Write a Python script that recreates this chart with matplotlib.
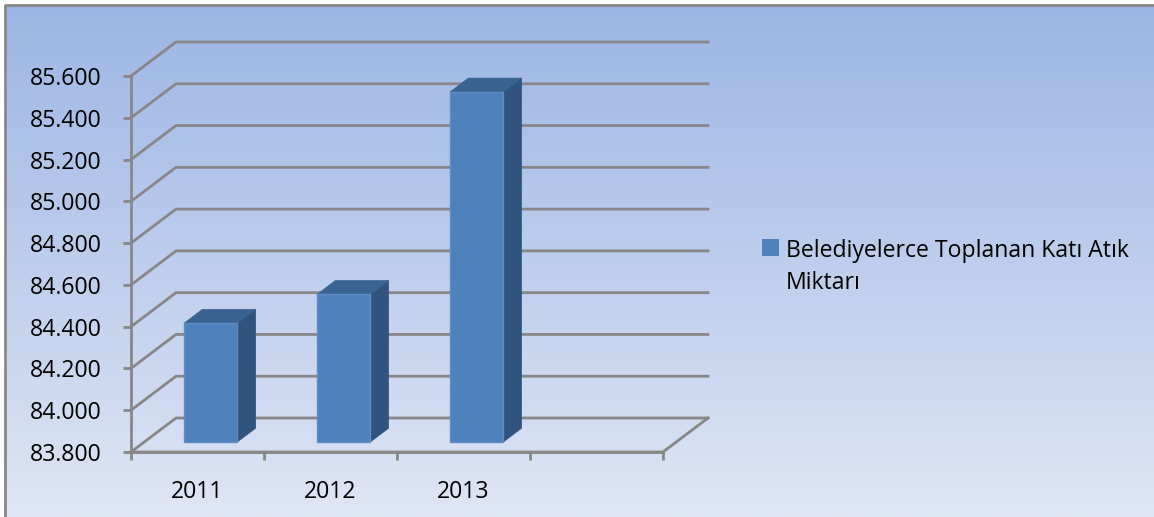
import numpy as np
import matplotlib
matplotlib.use("Agg")
from matplotlib import pyplot as plt
from matplotlib.patches import Polygon, Rectangle

years = ["2011", "2012", "2013"]
values = [84369, 84507, 85476]
n_slots = 4
yticks = [83800, 84000, 84200, 84400, 84600, 84800, 85000, 85200, 85400, 85600]
series_name = "Belediyelerce Toplanan Katı Atık\nMiktarı"

plt.rcParams['font.family'] = ['Open Sans', 'DejaVu Sans']

W, H = 1154, 517
fig = plt.figure(figsize=(W / 100, H / 100), dpi=100)

# background gradient + border (top/left only, image is cropped)
bg = fig.add_axes([0, 0, 1, 1])
grad = np.linspace(0, 1, 256)[:, None]
top_c = np.array([0x9b, 0xb5, 0xe3]) / 255
bot_c = np.array([0xdf, 0xe6, 0xf5]) / 255
img = top_c + (bot_c - top_c) * grad[..., None]
img = np.repeat(img, 2, axis=1)
bg.imshow(img, aspect="auto", extent=[0, W, H, 0])
bg.set_xlim(0, W)
bg.set_ylim(H, 0)
bg.add_patch(Rectangle((0, 0), W, 5, color="white", zorder=3))
bg.add_patch(Rectangle((0, 0), 5, H, color="white", zorder=3))
bg.plot([5, 5, W], [H, 5, 5], color="#888888", lw=2, zorder=4)
bg.axis("off")

# plot axes: x in category units, y in value units
x0_px, cat_px = 131, 133
y0_px, px_per_unit = 452, 376 / 1800
ymin = yticks[0]
ax = fig.add_axes([0, 0, 1, 1])
ax.set_xlim(-x0_px / cat_px, (W - x0_px) / cat_px)
ax.set_ylim(ymin - (H - y0_px) / px_per_unit, ymin + y0_px / px_per_unit)
ax.patch.set_alpha(0)

# depth offset of the back wall
ddx = 45 / cat_px
ddy = 34 / px_per_unit

grid_c = "#878787"
for v in yticks:
    ax.plot([0, ddx, n_slots + ddx], [v, v + ddy, v + ddy], color=grid_c, lw=2, zorder=1)
ax.plot([0, n_slots, n_slots + ddx], [ymin, ymin, ymin + ddy], color=grid_c, lw=2, zorder=1)

# bars
f0, f1 = 0.29, 0.70
half = 0.2
for i, v in enumerate(values):
    c = i + 0.5
    xl = c - half + f0 * ddx
    xr = c + half + f0 * ddx
    yb = ymin + f0 * ddy
    yt = v + f0 * ddy
    sx = (f1 - f0) * ddx
    sy = (f1 - f0) * ddy
    side = Polygon([(xr, yb), (xr + sx, yb + sy), (xr + sx, yt + sy), (xr, yt)],
                   closed=True, fc="#31547f", ec="#31547f", lw=0.5, zorder=3)
    top = Polygon([(xl, yt), (xl + sx, yt + sy), (xr + sx, yt + sy), (xr, yt)],
                  closed=True, fc="#3a6391", ec="#3a6391", lw=0.5, zorder=3)
    front = Polygon([(xl, yb), (xr, yb), (xr, yt), (xl, yt)],
                    closed=True, fc="#4f81bd", ec="#5d8cc6", lw=1, zorder=4)
    ax.add_patch(side)
    ax.add_patch(top)
    ax.add_patch(front)

# spines / ticks
for s in ["top", "right"]:
    ax.spines[s].set_visible(False)
ax.spines["left"].set_position(("data", 0))
ax.spines["left"].set_bounds(yticks[0], yticks[-1])
ax.spines["bottom"].set_position(("data", ymin))
ax.spines["bottom"].set_bounds(0, n_slots)
for s in ["left", "bottom"]:
    ax.spines[s].set_color(grid_c)
    ax.spines[s].set_linewidth(2)
ax.set_yticks(yticks)
ax.set_yticklabels([f"{t:,}".replace(",", ".") for t in yticks])
ax.set_xticks(range(n_slots + 1))
ax.set_xticklabels([])
ax.set_xticks([i + 0.5 for i in range(len(years))], minor=True)
ax.set_xticklabels(years, minor=True)
ax.tick_params(axis="y", length=6, width=2, color=grid_c, pad=15, labelsize=16.6)
ax.tick_params(axis="x", which="major", length=6, width=2, color=grid_c)
ax.tick_params(axis="x", which="minor", length=0, pad=20, labelsize=16.6)

# legend
leg = ax.legend([Rectangle((0, 0), 1, 1, fc="#4f81bd")], [series_name],
                loc="upper left", bbox_to_anchor=(762 / W, 1 - 239 / H),
                frameon=False, fontsize=16.6, handlelength=0.75, handleheight=0.75,
                handletextpad=0.3, borderpad=0, borderaxespad=0)
leg.get_texts()[0].set_linespacing(1.45)
for col in leg._legend_handle_box.get_children():
    for item in col.get_children():
        item.align = "top"

fig.savefig("out.png", dpi=100)
